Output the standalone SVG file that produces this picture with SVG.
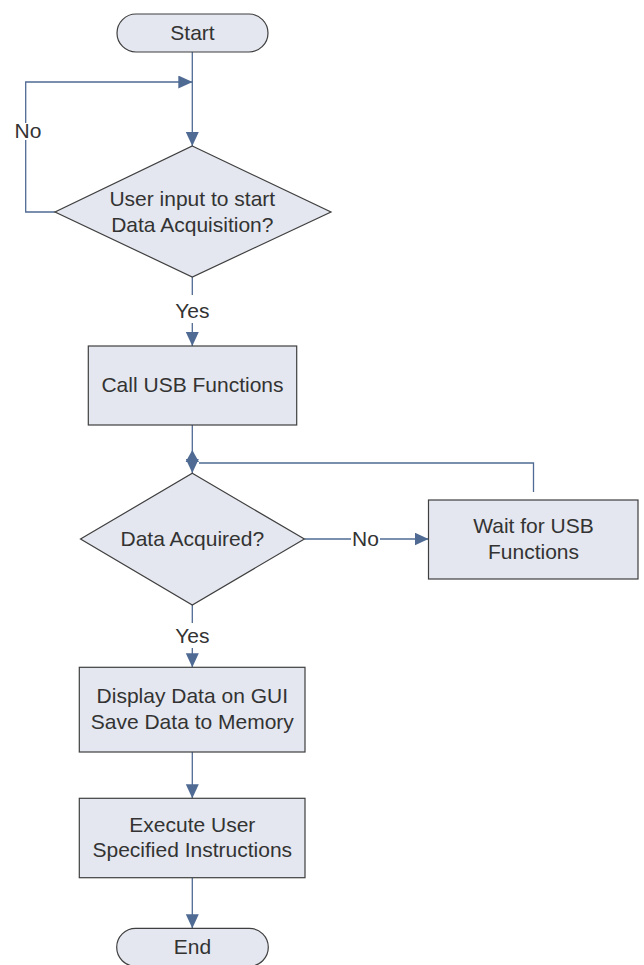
<svg xmlns="http://www.w3.org/2000/svg" width="644" height="965" viewBox="0 0 644 965">
  <defs>
    <marker id="arrow" markerUnits="userSpaceOnUse" markerWidth="14" markerHeight="14" refX="14" refY="6.5" orient="auto">
      <path d="M0,0 L14,6.5 L0,13 Z" fill="#4F6A93"/>
    </marker>
  </defs>
  <style>
    .node { fill: #E4E7EF; stroke: #3F3F3F; stroke-width: 1.2; }
    .conn { fill: none; stroke: #4F6A93; stroke-width: 1.3; }
    text { font-family: "Liberation Sans", Arial, sans-serif; font-size: 21px; fill: #333333; text-anchor: middle; }
  </style>
  <rect width="644" height="965" fill="#FFFFFF"/>

  <g id="connectors">
    <path class="conn" d="M192.3,52 V146" marker-end="url(#arrow)"/>
    <path class="conn" d="M55,212 H25.7 V140"/>
    <path class="conn" d="M25.7,123 V82 H192.3" marker-end="url(#arrow)"/>
    <path class="conn" d="M192.3,277 V295"/>
    <path class="conn" d="M192.3,323 V346" marker-end="url(#arrow)"/>
    <path class="conn" d="M192.3,425 V473" marker-end="url(#arrow)"/>
    <path class="conn" d="M304.4,539 H351"/>
    <path class="conn" d="M380,539 H428.5" marker-end="url(#arrow)"/>
    <path class="conn" d="M533.5,492 V463 H199"/>
    <polygon points="192.3,450 199,462 185.6,462" fill="#4F6A93"/>
    <path class="conn" d="M192.3,605 V623"/>
    <path class="conn" d="M192.3,648 V667.3" marker-end="url(#arrow)"/>
    <path class="conn" d="M192.3,752 V798.3" marker-end="url(#arrow)"/>
    <path class="conn" d="M192.3,878 V928.3" marker-end="url(#arrow)"/>
    <text x="28" y="138">No</text>
    <text x="192.3" y="318">Yes</text>
    <text x="365.5" y="546">No</text>
    <text x="192.3" y="643">Yes</text>
  </g>

  <g id="start">
    <rect class="node" x="117" y="14" width="151" height="38" rx="19" ry="19"/>
    <text x="192.5" y="40">Start</text>
  </g>

  <g id="decision-user-input">
    <polygon class="node" points="192.3,146 331,212 192.3,277 55,212"/>
    <text x="192.3" y="206">User input to start</text>
    <text x="192.3" y="232">Data Acquisition?</text>
  </g>

  <g id="call-usb">
    <rect class="node" x="88.3" y="346" width="208.4" height="79"/>
    <text x="192.5" y="392">Call USB Functions</text>
  </g>

  <g id="decision-data-acquired">
    <polygon class="node" points="192.3,473.3 304.4,539 192.3,605 80.5,539"/>
    <text x="192.3" y="546">Data Acquired?</text>
  </g>

  <g id="wait-usb">
    <rect class="node" x="428.5" y="500" width="209.5" height="79"/>
    <text x="533.5" y="533">Wait for USB</text>
    <text x="533.5" y="559">Functions</text>
  </g>

  <g id="display-save">
    <rect class="node" x="79.3" y="667.3" width="225.7" height="84.7"/>
    <text x="192.3" y="703">Display Data on GUI</text>
    <text x="192.3" y="729">Save Data to Memory</text>
  </g>

  <g id="execute">
    <rect class="node" x="79.3" y="798.3" width="225.7" height="79.4"/>
    <text x="192.3" y="832">Execute User</text>
    <text x="192.3" y="857">Specified Instructions</text>
  </g>

  <g id="end">
    <rect class="node" x="116.7" y="928.3" width="151.6" height="38" rx="19" ry="19"/>
    <text x="192.5" y="954">End</text>
  </g>
</svg>
